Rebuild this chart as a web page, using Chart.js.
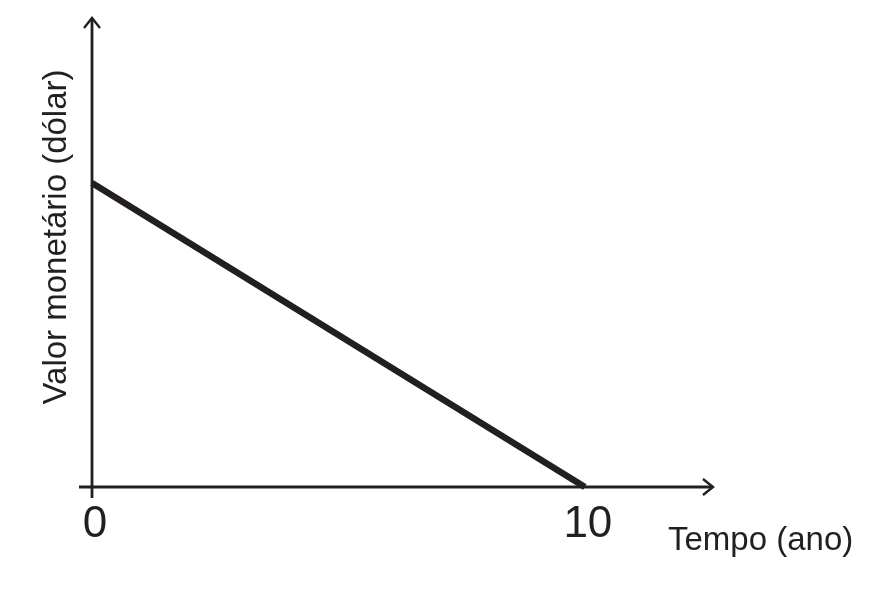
<!DOCTYPE html>
<html>
<head>
<meta charset="utf-8">
<script src="https://cdn.jsdelivr.net/npm/chart.js@4"></script>
<style>
html,body{margin:0;padding:0;background:#fff;}
#c{display:block;}
</style>
</head>
<body>
<canvas id="c" width="892" height="592"></canvas>
<script>
const timeYears = [0, 10];
const monetaryValue = [100, 0];
const xTickValues = [0, 10];
const xTickLabels = ['0', '10'];
const xTitle = 'Tempo (ano)';
const yTitle = 'Valor monetário (dólar)';

const INK = '#231f20';
const FONT = '"Liberation Sans", Arial, Helvetica, sans-serif';

const axesPlugin = {
  id: 'axesArrows',
  beforeDatasetsDraw(chart) {
    const ctx = chart.ctx;
    const xs = chart.scales.x, ys = chart.scales.y;
    const x0 = xs.getPixelForValue(0);
    const y0 = ys.getPixelForValue(0);
    const left = xs.getPixelForValue(xs.min);
    const right = xs.getPixelForValue(xs.max);
    const top = ys.getPixelForValue(ys.max);
    const bottom = ys.getPixelForValue(ys.min);
    ctx.save();
    ctx.strokeStyle = INK;
    ctx.lineWidth = 2.8;
    ctx.lineCap = 'butt';
    ctx.beginPath();
    ctx.moveTo(left, y0); ctx.lineTo(right, y0);
    ctx.moveTo(x0, bottom); ctx.lineTo(x0, top);
    ctx.stroke();
    ctx.lineWidth = 2.4;
    ctx.lineJoin = 'miter';
    ctx.beginPath();
    ctx.moveTo(x0 - 8, top + 10); ctx.lineTo(x0, top); ctx.lineTo(x0 + 8, top + 10);
    ctx.moveTo(right - 10, y0 - 8); ctx.lineTo(right, y0); ctx.lineTo(right - 10, y0 + 8);
    ctx.stroke();
    ctx.restore();
  },
  afterDraw(chart) {
    const ctx = chart.ctx;
    ctx.save();
    ctx.fillStyle = INK;
    ctx.font = '33px ' + FONT;
    ctx.textBaseline = 'alphabetic';
    ctx.textAlign = 'left';
    ctx.fillText(xTitle, 668, 550);
    ctx.translate(66, 237);
    ctx.rotate(-Math.PI / 2);
    ctx.textAlign = 'center';
    ctx.fillText(yTitle, 0, 0);
    ctx.restore();
  }
};

new Chart(document.getElementById('c'), {
  type: 'scatter',
  data: {
    datasets: [{
      data: timeYears.map((t, i) => ({ x: t, y: monetaryValue[i] })),
      showLine: true,
      borderColor: INK,
      borderWidth: 6.5,
      borderCapStyle: 'butt',
      pointRadius: 0,
      pointHoverRadius: 0,
      fill: false
    }]
  },
  options: {
    responsive: false,
    animation: false,
    devicePixelRatio: 1,
    layout: { padding: { left: 79, right: 179, top: 18, bottom: 0 } },
    plugins: { legend: { display: false }, tooltip: { enabled: false } },
    scales: {
      x: {
        type: 'linear',
        min: -0.264,
        max: 12.6,
        grid: { display: false, drawTicks: false },
        border: { display: false },
        afterBuildTicks: s => { s.ticks = xTickValues.map(v => ({ value: v })); },
        afterFit: s => { s.height = 94; },
        ticks: {
          color: INK,
          font: { size: 44, family: FONT },
          padding: 0,
          maxRotation: 0,
          labelOffset: 3,
          callback: (v) => { const i = xTickValues.indexOf(v); return i >= 0 ? xTickLabels[i] : ''; }
        }
      },
      y: {
        type: 'linear',
        display: false,
        min: -3.62,
        max: 154.3
      }
    }
  },
  plugins: [axesPlugin]
});
</script>
</body>
</html>
